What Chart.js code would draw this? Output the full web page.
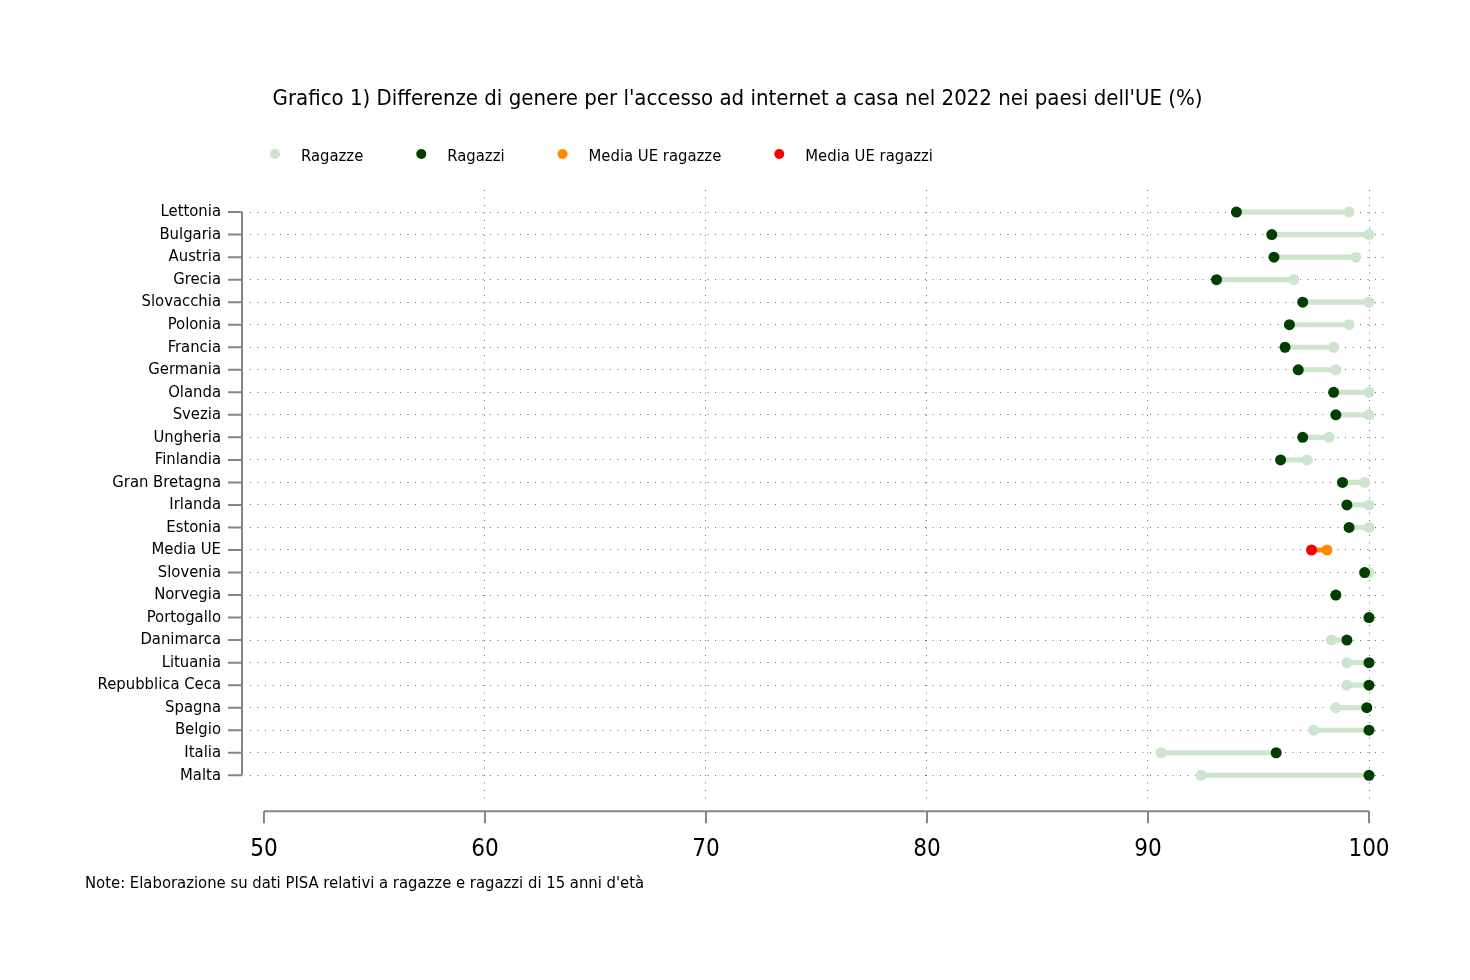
<!DOCTYPE html>
<html>
<head>
<meta charset="utf-8">
<script src="https://cdn.jsdelivr.net/npm/chart.js@4.4.1/dist/chart.umd.min.js"></script>
<style>
html,body{margin:0;padding:0;background:#fff}
#wrap{width:1470px;height:980px}
</style>
</head>
<body>
<div id="wrap"><canvas id="grafico"></canvas></div>
<script>
// Dati (PISA 2022, % accesso ad internet a casa)
var paesi = ['Lettonia','Bulgaria','Austria','Grecia','Slovacchia','Polonia','Francia','Germania',
  'Olanda','Svezia','Ungheria','Finlandia','Gran Bretagna','Irlanda','Estonia','Media UE',
  'Slovenia','Norvegia','Portogallo','Danimarca','Lituania','Repubblica Ceca','Spagna','Belgio',
  'Italia','Malta'];
var ragazze = [99.1,100,99.4,96.6,100,99.1,98.4,98.5,100,100,98.2,97.2,99.8,100,100,null,
  100,98.5,100,98.3,99.0,99.0,98.5,97.5,90.6,92.4];
var ragazzi = [94.0,95.6,95.7,93.1,97.0,96.4,96.2,96.8,98.4,98.5,97.0,96.0,98.8,99.0,99.1,null,
  99.8,98.5,100,99.0,100,100,99.9,100,95.8,100];
var mediaUeRagazze = [98.1];
var mediaUeRagazzi = [97.4];
var xTicks = [50,60,70,80,90,100];

var FONT = "'Liberation Sans Narrow','DejaVu Sans Condensed','Liberation Sans',sans-serif";
var C_RAGAZZE = '#cde4cd', C_RAGAZZI = '#003f00', C_MEDIA_F = '#ff8c00', C_MEDIA_M = '#ff0000';
var C_GRIGLIA = '#6e6e6e';
var iMedia = paesi.indexOf('Media UE');

var segmenti = paesi.map(function(p, i){
  if(i === iMedia) return {y:i, x:[mediaUeRagazzi[0], mediaUeRagazze[0]]};
  return {y:i, x:[ragazze[i], ragazzi[i]]};
});
function punti(arr){
  var out = [];
  arr.forEach(function(v, i){ if(v !== null) out.push({x:v, y:i}); });
  return out;
}

var assi = {
  id:'assi',
  afterDraw:function(chart){
    var ctx = chart.ctx, a = chart.chartArea, sx = chart.scales.x, sy = chart.scales.y;
    ctx.save();
    ctx.strokeStyle = '#858585';
    ctx.lineWidth = 2;
    // asse y
    var xl = a.left - 8;
    ctx.beginPath();
    ctx.moveTo(xl, sy.getPixelForValue(0));
    ctx.lineTo(xl, sy.getPixelForValue(paesi.length - 1));
    paesi.forEach(function(p, i){
      var y = sy.getPixelForValue(i);
      ctx.moveTo(xl - 14, y); ctx.lineTo(xl, y);
    });
    ctx.stroke();
    // asse x
    var yb = a.bottom + 8;
    ctx.beginPath();
    ctx.moveTo(sx.getPixelForValue(50), yb);
    ctx.lineTo(sx.getPixelForValue(100), yb);
    xTicks.forEach(function(v){
      var x = sx.getPixelForValue(v);
      ctx.moveTo(x, yb); ctx.lineTo(x, yb + 12);
    });
    ctx.stroke();

    // legenda
    var lx = 275, ly = 157;
    ctx.font = '16.5px ' + FONT;
    ctx.textBaseline = 'middle';
    chart.data.datasets.forEach(function(ds){
      if(!ds.legenda) return;
      ctx.beginPath();
      ctx.fillStyle = ds.pointBackgroundColor;
      ctx.arc(lx, ly - 3, 5, 0, Math.PI * 2);
      ctx.fill();
      ctx.fillStyle = '#000';
      ctx.fillText(ds.label, lx + 26, ly);
      lx += 26 + ctx.measureText(ds.label).width + 58;
    });
    ctx.restore();
  }
};

new Chart(document.getElementById('grafico'), {
  type:'bar',
  data:{
    datasets:[
      {type:'bar', label:'collegamento', data:segmenti, order:3, barThickness:4.5,
        backgroundColor:paesi.map(function(p, i){ return i === iMedia ? C_MEDIA_F : C_RAGAZZE; })},
      {type:'line', label:'Ragazze', legenda:true, data:punti(ragazze), showLine:false, order:2,
        pointRadius:5.5, pointBorderWidth:0, pointBackgroundColor:C_RAGAZZE},
      {type:'line', label:'Ragazzi', legenda:true, data:punti(ragazzi), showLine:false, order:1,
        pointRadius:5.5, pointBorderWidth:0, pointBackgroundColor:C_RAGAZZI},
      {type:'line', label:'Media UE ragazze', legenda:true, data:[{x:mediaUeRagazze[0], y:iMedia}],
        showLine:false, order:1, pointRadius:5.5, pointBorderWidth:0, pointBackgroundColor:C_MEDIA_F},
      {type:'line', label:'Media UE ragazzi', legenda:true, data:[{x:mediaUeRagazzi[0], y:iMedia}],
        showLine:false, order:0, pointRadius:5.5, pointBorderWidth:0, pointBackgroundColor:C_MEDIA_M}
    ]
  },
  options:{
    indexAxis:'y',
    responsive:true,
    maintainAspectRatio:false,
    animation:false,
    layout:{padding:{left:85, right:80, top:0, bottom:0}},
    plugins:{
      legend:{display:false},
      tooltip:{enabled:false},
      title:{display:true, text:"Grafico 1) Differenze di genere per l'accesso ad internet a casa nel 2022 nei paesi dell'UE (%)",
        color:'#000', font:{family:FONT, size:22, weight:'normal', lineHeight:1.2}, padding:{top:86, bottom:77.6}},
      subtitle:{display:true, position:'bottom', align:'start', text:"Note: Elaborazione su dati PISA relativi a ragazze e ragazzi di 15 anni d'età",
        color:'#000', font:{family:FONT, size:16.5, lineHeight:1.2}, padding:{top:0, bottom:86}}
    },
    scales:{
      x:{type:'linear', min:49.37, max:100.95,
        afterBuildTicks:function(s){ s.ticks = xTicks.map(function(v){ return {value:v}; }); },
        afterFit:function(s){ s.height = 71; },
        border:{display:false, dash:[1,6.5]},
        grid:{drawTicks:false, lineWidth:1,
          color:function(c){ return c.tick && c.tick.value === 50 ? 'rgba(0,0,0,0)' : C_GRIGLIA; }},
        ticks:{color:'#000', padding:32, font:{family:FONT, size:24}}
      },
      y:{type:'linear', reverse:true, offset:false, min:-0.98, max:26.24,
        afterBuildTicks:function(s){ s.ticks = paesi.map(function(p, i){ return {value:i}; }); },
        afterFit:function(s){ s.width = 165; },
        border:{display:false, dash:[1,6.5]},
        grid:{offset:false, drawTicks:false, color:C_GRIGLIA, lineWidth:1},
        ticks:{color:'#000', padding:29, autoSkip:false, font:{family:FONT, size:16.5},
          callback:function(v){ return paesi[v]; }}
      }
    }
  },
  plugins:[assi]
});
</script>
</body>
</html>
